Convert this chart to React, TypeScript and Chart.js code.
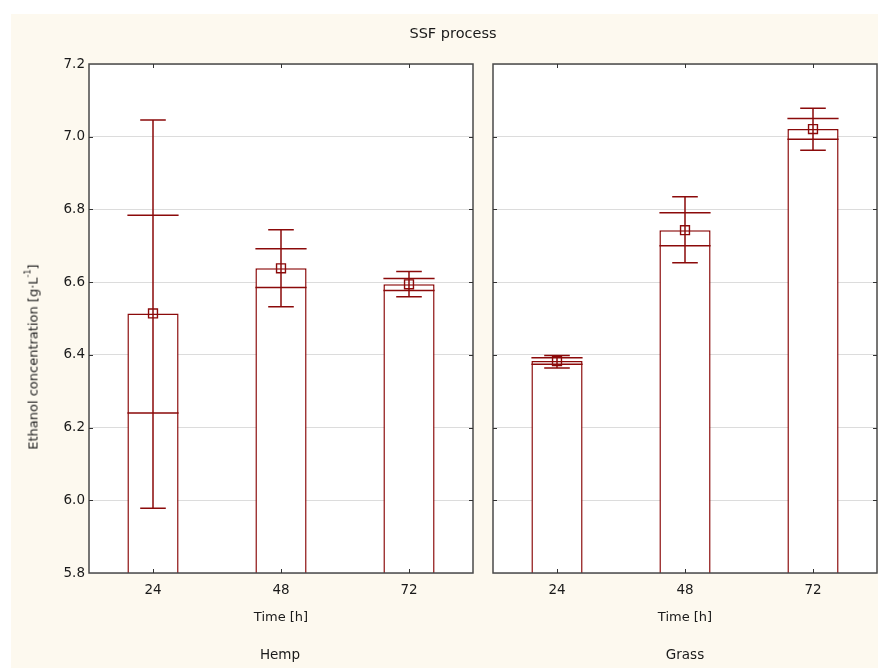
import React, { useEffect, useRef } from 'react';
import { Chart, registerables } from 'chart.js';
Chart.register(...registerables);

// ---- data ----
const categories = ['24', '48', '72'];
const yTicks = [5.8, 6.0, 6.2, 6.4, 6.6, 6.8, 7.0, 7.2];

const hempMean = [6.514, 6.638, 6.594];
const hempSEUpper = [6.784, 6.692, 6.61];
const hempSELower = [6.24, 6.585, 6.577];
const hempCIUpper = [7.046, 6.744, 6.629];
const hempCILower = [5.978, 6.532, 6.56];

const grassMean = [6.383, 6.743, 7.021];
const grassSEUpper = [6.392, 6.791, 7.05];
const grassSELower = [6.374, 6.7, 6.993];
const grassCIUpper = [6.398, 6.835, 7.078];
const grassCILower = [6.364, 6.653, 6.963];

const RED = '#8b0a0a';
const FRAME = '#4a4a4a';
const TEXT = '#1a1a1a';
const FONT = '"DejaVu Sans", sans-serif';

const panelPlugin = {
  id: 'panelPlugin',
  beforeDraw(chart: any) {
    const { ctx, chartArea: a } = chart;
    ctx.save();
    ctx.fillStyle = '#ffffff';
    ctx.fillRect(a.left, a.top, a.right - a.left, a.bottom - a.top);
    ctx.restore();
  },
  afterDatasetsDraw(chart: any) {
    const { ctx } = chart;
    const ds = chart.data.datasets[0];
    const meta = chart.getDatasetMeta(0);
    const ys = chart.scales.y;
    ctx.save();
    ctx.strokeStyle = RED;
    ctx.lineWidth = 1.5;
    meta.data.forEach((bar: any, i: number) => {
      const { x, width } = bar.getProps(['x', 'width'], true);
      const half = width / 2;
      const q = width / 4;
      const yCU = ys.getPixelForValue(ds.ciUpper[i]);
      const yCL = ys.getPixelForValue(ds.ciLower[i]);
      const ySU = ys.getPixelForValue(ds.seUpper[i]);
      const ySL = ys.getPixelForValue(ds.seLower[i]);
      ctx.beginPath();
      ctx.moveTo(x, yCU);
      ctx.lineTo(x, yCL);
      ctx.moveTo(x - q, yCU);
      ctx.lineTo(x + q, yCU);
      ctx.moveTo(x - q, yCL);
      ctx.lineTo(x + q, yCL);
      ctx.moveTo(x - half, ySU);
      ctx.lineTo(x + half, ySU);
      ctx.moveTo(x - half, ySL);
      ctx.lineTo(x + half, ySL);
      ctx.stroke();
    });
    ctx.restore();
  },
  afterDraw(chart: any) {
    const { ctx, chartArea: a } = chart;
    const xs = chart.scales.x;
    const ys = chart.scales.y;
    ctx.save();
    ctx.strokeStyle = FRAME;
    ctx.lineWidth = 1.5;
    ctx.strokeRect(a.left, a.top, a.right - a.left, a.bottom - a.top);
    ctx.lineWidth = 1;
    ctx.strokeStyle = '#333';
    ctx.beginPath();
    categories.forEach((_, i) => {
      const px = Math.round(xs.getPixelForValue(i)) + 0.5;
      ctx.moveTo(px, a.top);
      ctx.lineTo(px, a.top + 4);
      ctx.moveTo(px, a.bottom);
      ctx.lineTo(px, a.bottom - 4);
    });
    yTicks.slice(1, -1).forEach((v) => {
      const py = Math.round(ys.getPixelForValue(v)) + 0.5;
      ctx.moveTo(a.left, py);
      ctx.lineTo(a.left + 4, py);
      ctx.moveTo(a.right, py);
      ctx.lineTo(a.right - 4, py);
    });
    ctx.stroke();
    ctx.restore();
  },
};

function makeConfig(
  mean: number[],
  seU: number[],
  seL: number[],
  ciU: number[],
  ciL: number[],
  showYLabels: boolean,
  yWidth: number,
  padRight: number
): any {
  return {
    type: 'bar',
    data: {
      labels: categories,
      datasets: [
        {
          type: 'bar',
          data: mean,
          seUpper: seU,
          seLower: seL,
          ciUpper: ciU,
          ciLower: ciL,
          backgroundColor: '#ffffff',
          borderColor: RED,
          borderWidth: 1.5,
          borderSkipped: 'start',
          barPercentage: 0.4,
          categoryPercentage: 1.0,
          order: 2,
        },
        {
          type: 'line',
          data: mean,
          showLine: false,
          pointStyle: 'rect',
          pointRadius: 6.3,
          pointBorderWidth: 1.4,
          pointBorderColor: RED,
          pointBackgroundColor: 'rgba(0,0,0,0)',
          order: 1,
        },
      ],
    },
    options: {
      responsive: false,
      animation: false,
      devicePixelRatio: 1,
      events: [],
      layout: { autoPadding: false, padding: { top: 64, right: padRight, left: 0, bottom: 0 } },
      plugins: { legend: { display: false }, tooltip: { enabled: false }, title: { display: false } },
      scales: {
        x: {
          type: 'category',
          offset: true,
          grid: { display: false, drawTicks: false },
          border: { display: false },
          ticks: { color: TEXT, font: { family: FONT, size: 13.5 }, padding: 9, maxRotation: 0 },
          title: {
            display: true,
            text: 'Time [h]',
            color: TEXT,
            font: { family: FONT, size: 13 },
            padding: { top: 0, bottom: 43 },
          },
          afterFit: (s: any) => {
            s.height = 95;
            s.paddingLeft = 0;
            s.paddingRight = 0;
          },
        },
        y: {
          type: 'linear',
          min: 5.8,
          max: 7.2,
          afterBuildTicks: (s: any) => {
            s.ticks = yTicks.map((v) => ({ value: v }));
          },
          grid: { color: '#dcdcdc', lineWidth: 1, drawTicks: false },
          border: { display: false },
          ticks: {
            display: showYLabels,
            color: TEXT,
            font: { family: FONT, size: 13.5 },
            padding: 4,
            callback: (v: any) => Number(v).toFixed(1),
          },
          afterFit: (s: any) => {
            s.width = yWidth;
            s.paddingTop = 0;
            s.paddingBottom = 0;
          },
        },
      },
    },
    plugins: [panelPlugin],
  };
}

export default function App() {
  const leftRef = useRef<HTMLCanvasElement>(null);
  const rightRef = useRef<HTMLCanvasElement>(null);

  useEffect(() => {
    const c1 = new Chart(
      leftRef.current as HTMLCanvasElement,
      makeConfig(hempMean, hempSEUpper, hempSELower, hempCIUpper, hempCILower, true, 89, 10)
    );
    const c2 = new Chart(
      rightRef.current as HTMLCanvasElement,
      makeConfig(grassMean, grassSEUpper, grassSELower, grassCIUpper, grassCILower, false, 10, 1)
    );
    return () => {
      c1.destroy();
      c2.destroy();
    };
  }, []);

  const label = (text: string, x: number, y: number, size = 13) => (
    <div
      style={{
        position: 'absolute',
        left: x,
        top: y,
        transform: 'translate(-50%, -50%)',
        whiteSpace: 'nowrap',
        fontFamily: FONT,
        fontSize: size,
        color: TEXT,
        lineHeight: 1,
      }}
    >
      {text}
    </div>
  );

  return (
    <div
      style={{
        position: 'absolute',
        left: 0,
        top: 0,
        width: 878,
        height: 668,
        background: '#ffffff',
        overflow: 'hidden',
      }}
    >
      <div style={{ position: 'absolute', left: 11, top: 14, right: 0, bottom: 0, background: '#fdf9ef' }} />
      <canvas
        ref={leftRef}
        width={483}
        height={668}
        style={{ position: 'absolute', left: 0, top: 0, width: 483, height: 668 }}
      />
      <canvas
        ref={rightRef}
        width={395}
        height={668}
        style={{ position: 'absolute', left: 483, top: 0, width: 395, height: 668 }}
      />
      {label('SSF process', 453, 33, 14.5)}
      {label('Hemp', 280, 655, 13.5)}
      {label('Grass', 685, 655, 13.5)}
      <div
        style={{
          position: 'absolute',
          left: 33,
          top: 357,
          transform: 'translate(-50%, -50%) rotate(-90deg)',
          whiteSpace: 'nowrap',
          fontFamily: FONT,
          fontSize: 13,
          color: TEXT,
          lineHeight: 1,
        }}
      >
        Ethanol concentration [g·L<sup style={{ fontSize: 8, verticalAlign: 'top', position: 'relative', top: -2 }}>-1</sup>]
      </div>
    </div>
  );
}
